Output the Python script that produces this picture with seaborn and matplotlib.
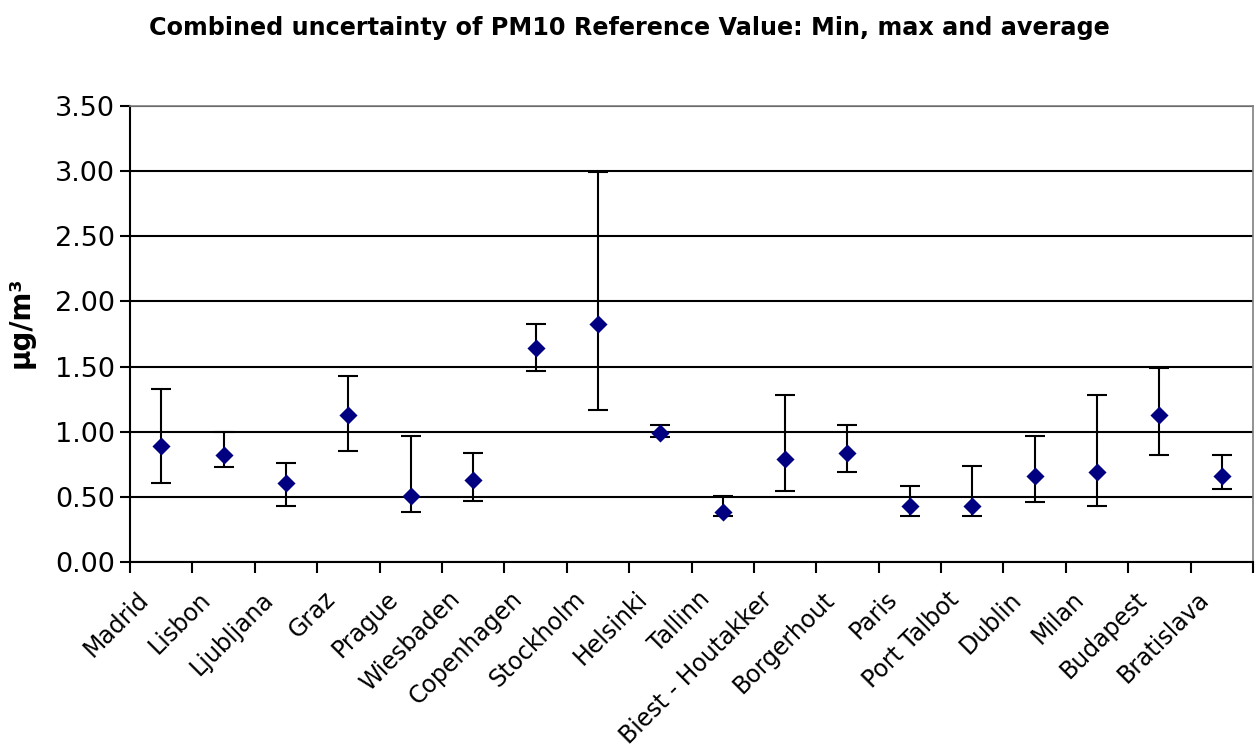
import matplotlib
matplotlib.use("Agg")
import matplotlib.pyplot as plt
import matplotlib.transforms as mtransforms
import seaborn as sns
import pandas as pd
import numpy as np
from matplotlib.ticker import FixedLocator, MultipleLocator, FormatStrFormatter

cities = ["Madrid", "Lisbon", "Ljubljana", "Graz", "Prague", "Wiesbaden", "Copenhagen",
          "Stockholm", "Helsinki", "Tallinn", "Biest - Houtakker", "Borgerhout", "Paris",
          "Port Talbot", "Dublin", "Milan", "Budapest", "Bratislava"]
avg_vals = [0.89, 0.82, 0.61, 1.13, 0.51, 0.63, 1.645, 1.825, 0.99, 0.38, 0.79, 0.84,
            0.43, 0.43, 0.66, 0.69, 1.13, 0.66]
max_vals = [1.33, 1.00, 0.76, 1.43, 0.97, 0.84, 1.825, 2.99, 1.055, 0.51, 1.28, 1.055,
            0.58, 0.74, 0.97, 1.28, 1.49, 0.82]
min_vals = [0.61, 0.73, 0.43, 0.855, 0.38, 0.465, 1.465, 1.17, 0.96, 0.35, 0.545, 0.69,
            0.35, 0.35, 0.46, 0.43, 0.82, 0.56]

df = pd.DataFrame({"city": cities, "avg": avg_vals, "max": max_vals, "min": min_vals})
df["pos"] = np.arange(len(df))

sns.set_style("white")
plt.rcParams["font.family"] = ["DejaVu Sans"]
plt.rcParams["text.color"] = "black"
plt.rcParams["axes.labelcolor"] = "black"
plt.rcParams["xtick.color"] = "black"
plt.rcParams["ytick.color"] = "black"

fig = plt.figure(figsize=(12.58, 7.55), dpi=100)
ax = fig.add_axes([130/1258, 1-562/755, (1253-130)/1258, (562-106)/755])

ax.errorbar(df["pos"], df["avg"],
            yerr=[df["avg"] - df["min"], df["max"] - df["avg"]],
            fmt="none", ecolor="black", elinewidth=1.5, capsize=7.5, capthick=1.5, zorder=3)
sns.scatterplot(data=df, x="pos", y="avg", marker="D", color="#000080", s=85,
                edgecolor="#000080", linewidth=0, ax=ax, zorder=4)

n = len(df)
ax.set_xlim(-0.5, n - 0.5)
ax.set_ylim(0, 3.5)
ax.yaxis.set_major_locator(MultipleLocator(0.5))
ax.yaxis.set_major_formatter(FormatStrFormatter("%.2f"))
ax.grid(axis="y", color="black", linewidth=1.5)
ax.set_axisbelow(True)

ax.set_xticks(df["pos"])
ax.set_xticklabels(df["city"], rotation=45, ha="right", va="top",
                   rotation_mode="anchor", fontsize=17, color="black")
ax.xaxis.set_minor_locator(FixedLocator(np.arange(-0.5, n, 1.0)))
ax.tick_params(axis="x", which="major", length=0, pad=18)
ax.tick_params(axis="x", which="minor", length=8, width=1.5, direction="out", bottom=True)
ax.tick_params(axis="y", length=7, width=1.5, direction="out", labelsize=19.5, pad=4,
               left=True, labelcolor="black")

shift = mtransforms.ScaledTranslation(-0.25, 0, fig.dpi_scale_trans)
for lab in ax.get_xticklabels():
    lab.set_transform(lab.get_transform() + shift)

for side in ["left", "bottom"]:
    ax.spines[side].set_color("black")
    ax.spines[side].set_linewidth(1.5)
for side in ["top", "right"]:
    ax.spines[side].set_color("#808080")
    ax.spines[side].set_linewidth(1.2)

ax.set_xlabel("")
ax.set_ylabel("µg/m³", fontsize=20, fontweight="bold", color="black")
ax.yaxis.set_label_coords(-0.085, 0.526)
fig.text(0.5, 1 - 28/755, "Combined uncertainty of PM10 Reference Value: Min, max and average",
         ha="center", va="center", fontsize=17.2, fontweight="bold", color="black")

fig.savefig("out.png", dpi=100)
